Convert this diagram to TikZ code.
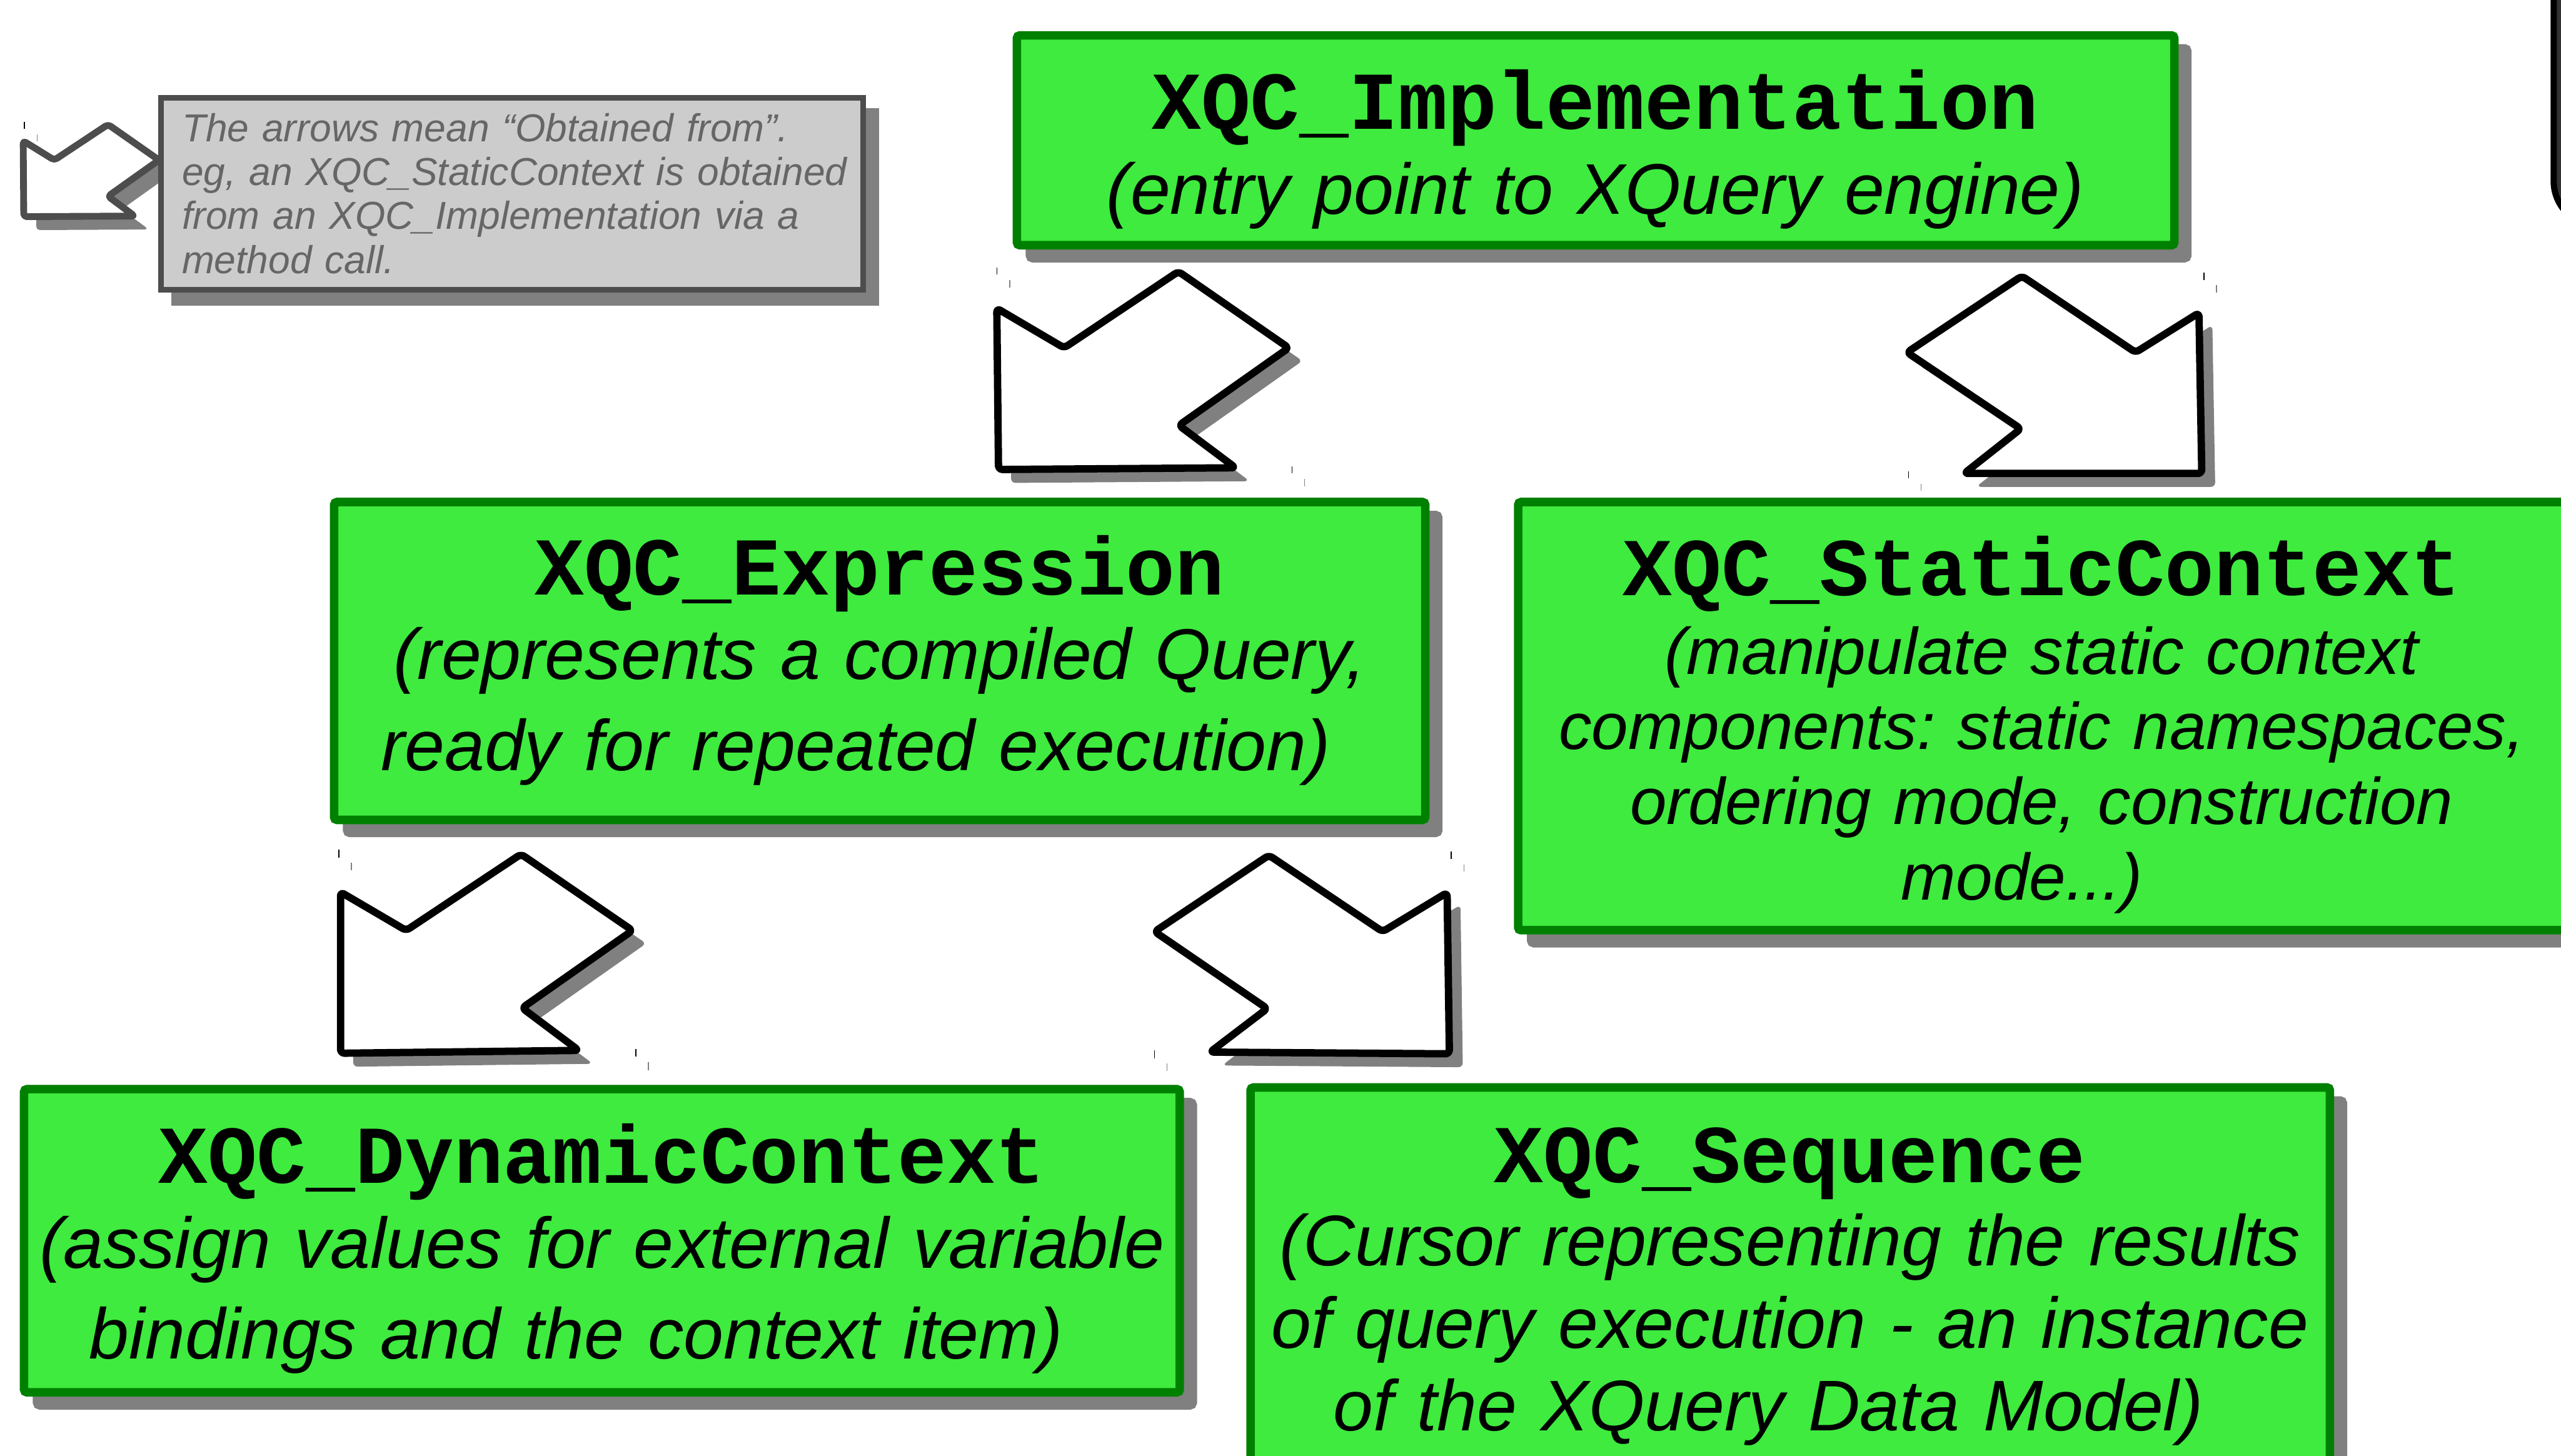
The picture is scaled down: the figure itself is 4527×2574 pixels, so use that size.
\documentclass[tikz,border=0pt]{standalone}
\usepackage{fontspec}
\setmainfont{Liberation Sans}
\newfontfamily\namefont{Liberation Mono}
\newfontfamily\notefont{Liberation Sans}
\frenchspacing

\definecolor{boxgreen}{HTML}{3EEB3E}
\definecolor{boxedge}{HTML}{008000}
\definecolor{shadowgray}{HTML}{808080}
\definecolor{notefill}{HTML}{CCCCCC}
\definecolor{noteedge}{HTML}{4D4D4D}
\definecolor{notetext}{HTML}{666666}
\definecolor{panelfill}{HTML}{333333}

\tikzset{
  shadowed/.style={preaction={draw=shadowgray, fill=shadowgray, transform canvas={shift={(23,23)}}}},
  classbox/.style={draw=boxedge, fill=boxgreen, line width=1.5mm, rounded corners=0.5mm,
    shadowed, anchor=north west, inner sep=0pt},
  classname/.style={font=\namefont\bfseries\fontsize{41.3}{49}\selectfont, anchor=base, inner sep=0pt},
  classnote/.style 2 args={font=\notefont\itshape\fontsize{#1}{#2}\selectfont, anchor=base,
    inner sep=0pt, text width=230mm, align=center},
  bigarrow/.style={draw=black, fill=white, line width=1.3mm, line join=round, rounded corners=2pt, shadowed},
  legendarrow/.style={draw=noteedge, fill=white, line width=1.2mm, line join=round, rounded corners=1.5pt, shadowed},
  legendbox/.style={draw=noteedge, fill=notefill, line width=1mm, shadowed, anchor=north west,
    inner sep=0pt, minimum width=124.1mm, minimum height=33.9mm},
  legendtext/.style={font=\notefont\itshape\fontsize{19.6}{22.1}\selectfont, text=notetext,
    anchor=base west, inner sep=0pt, text width=125mm, align=left},
  tickmark/.style={line width=0.15mm},
}
% room kept at the end of a last line
\newcommand{\tailgap}[1]{\makebox[#1]{}}

\begin{document}
\begin{tikzpicture}[x=0.1mm, y=-0.1mm]
  \useasboundingbox (0,0) rectangle (4527,2574);
  \clip (0,0) rectangle (4527,2574);

  % Panel cut off at the right edge
  \draw[line width=1.1mm, fill=panelfill, rounded corners=8mm] (4514,-200) rectangle (4800,400);

  % Legend
  \draw[legendarrow] (96,283) -- (191,220) -- (281,283) -- (191,347) -- (238,382) -- (42,383) -- (41,249) -- cycle;
  \node[legendbox] (legend) at (280,168) {};
  \node[legendtext] (legendnote) at (321,250)
    {The arrows mean “Obtained from”.\\eg, an XQC\_StaticContext is obtained\\from an XQC\_Implementation via a\\method call.};

  % Arrows between the classes
  \draw[bigarrow] (1881,615) -- (2083,480) -- (2278,615) -- (2084,752) -- (2184,827) -- (1765,830) -- (1762,545) -- cycle;
  \draw[bigarrow] (3775,623) -- (3887,553) -- (3892,837) -- (3472,837) -- (3572,758) -- (3371,623) -- (3574,488) -- cycle;
  \draw[bigarrow] (718,1645) -- (921,1510) -- (1118,1645) -- (923,1782) -- (1023,1857) -- (602,1862) -- (602,1577) -- cycle;
  \draw[bigarrow] (2444,1647) -- (2558,1578) -- (2562,1863) -- (2139,1860) -- (2240,1783) -- (2041,1647) -- (2243,1512) -- cycle;
  \foreach \tx/\ta/\tb/\tc in {1762/473/485/black, 1785/495/508/shadowgray, 2284/825/837/black, 2306/847/860/shadowgray,
      3896/482/495/black, 3918/504/517/shadowgray, 3374/833/846/black, 3396/855/868/shadowgray,
      599/1502/1516/black, 621/1525/1538/shadowgray, 1124/1855/1868/black, 1146/1878/1892/shadowgray,
      2565/1505/1518/black, 2588/1528/1541/shadowgray, 2041/1857/1871/black, 2063/1880/1893/shadowgray,
      43/215/228/black, 66/238/250/shadowgray}
    \draw[tickmark, \tc] (\tx,\ta) -- (\tx,\tb);

  % XQC_Implementation
  \node[classbox, minimum width=204.6mm, minimum height=37.1mm] (impl) at (1790,55) {};
  \node[classname] (implname) at (2820,228) {XQC\_Implementation};
  \node[classnote={36.1}{45.5}] (implnote) at (2820,378) {(entry point to XQuery engine)};

  % XQC_Expression
  \node[classbox, minimum width=192.9mm, minimum height=56.2mm] (expr) at (583,880) {};
  \node[classname] (exprname) at (1555,1052) {XQC\_Expression};
  \node[classnote={36.1}{45.8}] (exprnote) at (1555,1201)
    {(represents a compiled Query,\\ready for repeated execution)\tailgap{0.67em}};

  % XQC_StaticContext
  \node[classbox, minimum width=185.1mm, minimum height=75.7mm] (static) at (2676,880) {};
  \node[classname] (staticname) at (3609,1053) {XQC\_StaticContext};
  \node[classnote={33.1}{37.8}] (staticnote) at (3609,1192)
    {(manipulate static context\\components: static namespaces,\\ordering mode, construction\\mode...)\tailgap{0.6em}};

  % XQC_DynamicContext
  \node[classbox, minimum width=204.3mm, minimum height=53.6mm] (dynamic) at (35,1918) {};
  \node[classname] (dynamicname) at (1064,2092) {XQC\_DynamicContext};
  \node[classnote={36.1}{45.5}] (dynamicnote) at (1064,2242)
    {(assign values for external variable\\bindings and the context item)\tailgap{0.72em}};

  % XQC_Sequence
  \node[classbox, minimum width=190.8mm, minimum height=77mm] (sequence) at (2203,1915) {};
  \node[classname] (sequencename) at (3164,2090) {XQC\_Sequence};
  \node[classnote={36.1}{41.4}] (sequencenote) at (3164,2238)
    {(Cursor representing the results\\of query execution - an instance\\of the XQuery Data Model)\tailgap{0.6em}};
\end{tikzpicture}
\end{document}
